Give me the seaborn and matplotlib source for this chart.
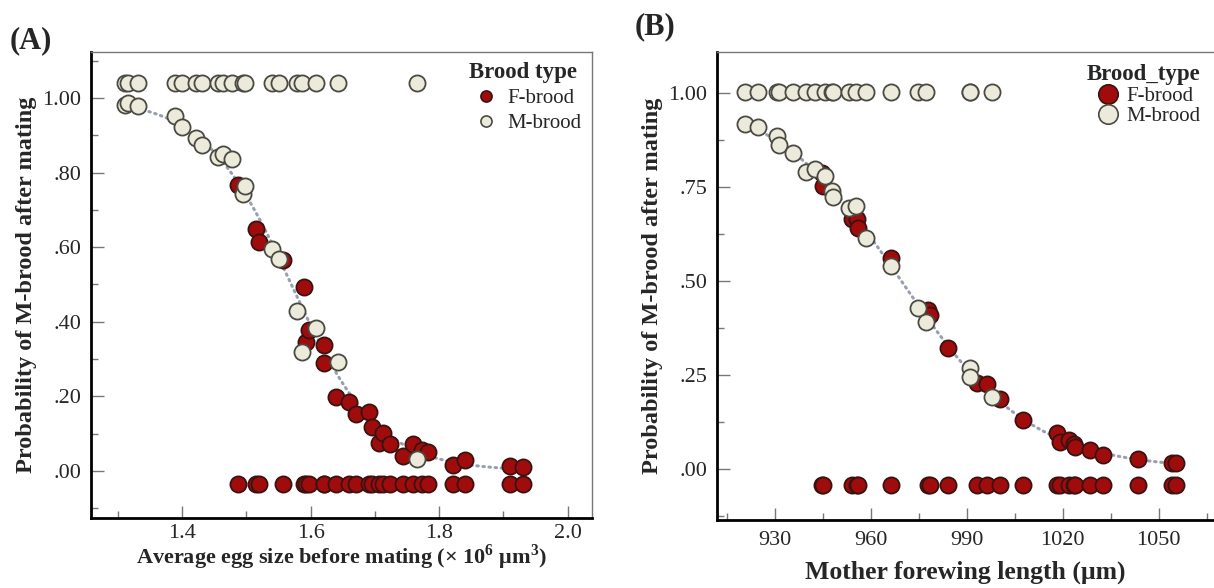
import numpy as np
import pandas as pd
import seaborn as sns
import matplotlib.pyplot as plt
from matplotlib.lines import Line2D
from matplotlib.ticker import MultipleLocator, FuncFormatter

sns.set_style('ticks')
plt.rcParams['font.family'] = ['Liberation Serif', 'DejaVu Serif']
plt.rcParams['mathtext.fontset'] = 'custom'
plt.rcParams['mathtext.rm'] = 'Liberation Serif'
plt.rcParams['mathtext.bf'] = 'Liberation Serif:bold'

# (A) egg size vs fitted probability, split by actual brood type
egg_f = [1.487, 1.515, 1.520, 1.557, 1.590, 1.592, 1.597, 1.620, 1.620, 1.640, 1.659, 1.671, 1.690,
         1.695, 1.707, 1.712, 1.724, 1.744, 1.760, 1.774, 1.783, 1.822, 1.840, 1.910, 1.931]
prob_egg_f = [0.767, 0.649, 0.614, 0.566, 0.493, 0.346, 0.378, 0.338, 0.290, 0.198, 0.185, 0.153, 0.158,
              0.118, 0.075, 0.102, 0.072, 0.040, 0.072, 0.056, 0.051, 0.016, 0.029, 0.013, 0.011]
egg_m = [1.311, 1.316, 1.331, 1.388, 1.400, 1.422, 1.431, 1.455, 1.464, 1.478, 1.495, 1.498, 1.540,
         1.550, 1.579, 1.587, 1.608, 1.642, 1.765]
prob_egg_m = [0.981, 0.987, 0.979, 0.952, 0.922, 0.893, 0.874, 0.842, 0.850, 0.836, 0.743, 0.764, 0.595,
              0.568, 0.429, 0.319, 0.383, 0.292, 0.032]
row_a = {'M-brood': 1.04, 'F-brood': -0.035}

# (B) forewing length vs fitted probability
wing_f = [944.9, 945.1, 954.3, 955.7, 956.2, 966.3, 977.8, 978.6, 984.1, 993.3, 996.3, 1000.4, 1007.6,
          1018.4, 1019.2, 1022.0, 1023.5, 1024.0, 1028.5, 1032.5, 1043.4, 1054.3, 1055.4]
prob_wing_f = [0.788, 0.751, 0.664, 0.664, 0.640, 0.560, 0.423, 0.410, 0.321, 0.228, 0.226, 0.185, 0.130,
               0.095, 0.073, 0.077, 0.066, 0.059, 0.051, 0.037, 0.026, 0.015, 0.015]
wing_m = [920.7, 924.9, 930.7, 931.5, 935.6, 939.9, 942.6, 945.9, 947.8, 948.2, 953.1, 955.4, 958.5,
          966.5, 974.9, 977.3, 991.0, 991.0, 997.8]
prob_wing_m = [0.918, 0.908, 0.886, 0.861, 0.840, 0.789, 0.797, 0.778, 0.740, 0.724, 0.693, 0.698, 0.615,
               0.540, 0.427, 0.390, 0.268, 0.245, 0.192]
row_b = {'M-brood': 1.003, 'F-brood': -0.043}

fill = {'F-brood': '#a00c0c', 'M-brood': '#ecebdb'}
edge = {'F-brood': '#3a1212', 'M-brood': '#4a4a42'}


def make_df(xf, pf, xm, pm, rows):
    df = pd.DataFrame({'x': xf + xm, 'prob': pf + pm,
                       'brood': ['F-brood'] * len(xf) + ['M-brood'] * len(xm)})
    df['outcome'] = df['brood'].map(rows)
    return df


def draw(ax, df, size):
    # logistic curve fitted to the predicted probabilities
    b, a = np.polyfit(df['x'], np.log(df['prob'] / (1 - df['prob'])), 1)
    xs = np.linspace(df['x'].min(), df['x'].max(), 200)
    curve = pd.DataFrame({'x': xs, 'y': 1 / (1 + np.exp(-(a + b * xs)))})
    sns.lineplot(data=curve, x='x', y='y', ax=ax, color='#98a0b0', lw=2.2,
                 dashes=False, linestyle=(0, (0.5, 1.5)), dash_capstyle='round', zorder=1)
    for col in ['outcome', 'prob']:
        for kind in ['M-brood', 'F-brood'] if col == 'outcome' else ['F-brood', 'M-brood']:
            sub = df[df['brood'] == kind]
            sns.scatterplot(data=sub, x='x', y=col, ax=ax, color=fill[kind], edgecolor=edge[kind],
                            linewidth=1.3, s=size, legend=False, zorder=3)


def style(ax, xpad):
    for side in ['left', 'bottom']:
        ax.spines[side].set_linewidth(2.0)
        ax.spines[side].set_color('black')
    for side in ['top', 'right']:
        ax.spines[side].set_visible(True)
        ax.spines[side].set_linewidth(1.0)
        ax.spines[side].set_color('#777777')
    ax.tick_params(which='major', direction='in', length=9, width=1, color='#777777',
                   labelsize=16, pad=7)
    ax.tick_params(axis='x', which='major', pad=xpad)
    ax.tick_params(which='minor', direction='in', length=5, width=1, color='#777777')
    ax.yaxis.set_major_formatter(FuncFormatter(lambda v, p: f'{v:.2f}'.replace('0.', '.', 1) if abs(v) < 1 else f'{v:.2f}'))


fig = plt.figure(figsize=(12.14, 5.88), dpi=100)
ax1 = fig.add_axes([0.075, 0.119, 0.4127, 0.7925])
ax2 = fig.add_axes([0.5906, 0.116, 0.4086, 0.796])

df_a = make_df(egg_f, prob_egg_f, egg_m, prob_egg_m, row_a)
draw(ax1, df_a, 135)
ax1.set_xlim(1.258, 2.038)
ax1.set_ylim(-0.126, 1.123)
ax1.xaxis.set_major_locator(MultipleLocator(0.2))
ax1.xaxis.set_minor_locator(MultipleLocator(0.1))
ax1.yaxis.set_major_locator(MultipleLocator(0.2))
ax1.yaxis.set_minor_locator(MultipleLocator(0.1))
style(ax1, 4)
ax1.set_xlabel(r'Average egg size before mating (× 10$^{\mathbf{6}}$ μm$^{\mathbf{3}}$)',
               fontsize=16, fontweight='bold', labelpad=0)
ax1.set_ylabel('Probability of M-brood after mating', fontsize=17.5, fontweight='bold', labelpad=4)

df_b = make_df(wing_f, prob_wing_f, wing_m, prob_wing_m, row_b)
draw(ax2, df_b, 135)
ax2.set_xlim(912, 1067)
ax2.set_ylim(-0.135, 1.109)
ax2.xaxis.set_major_locator(MultipleLocator(30))
ax2.xaxis.set_minor_locator(MultipleLocator(15))
ax2.yaxis.set_major_locator(MultipleLocator(0.25))
ax2.yaxis.set_minor_locator(MultipleLocator(0.125))
style(ax2, 8)
ax2.spines['right'].set_visible(False)
ax2.set_xlabel('Mother forewing length (μm)', fontsize=18.5, fontweight='bold', labelpad=8)
ax2.set_ylabel('Probability of M-brood after mating', fontsize=17.5, fontweight='bold', labelpad=4)


def handles(ms):
    return [Line2D([], [], marker='o', ls='', markersize=ms, markerfacecolor=fill[k],
                   markeredgecolor=edge[k], markeredgewidth=1.2, label=k) for k in ['F-brood', 'M-brood']]


leg1 = ax1.legend(handles=handles(8), title='Brood type', loc='upper right', frameon=False,
                  fontsize=15, handletextpad=0.05, labelspacing=0.25, borderaxespad=0.1,
                  title_fontproperties={'weight': 'bold', 'size': 16.5})
leg2 = ax2.legend(handles=handles(14), title='Brood_type', loc='upper right', frameon=False,
                  fontsize=15, handletextpad=-0.1, labelspacing=0.05, borderaxespad=0.2,
                  title_fontproperties={'weight': 'bold', 'size': 16.5})

fig.text(0.008, 0.93, '(A)', fontsize=22, fontweight='bold', va='center')
fig.text(0.523, 0.955, '(B)', fontsize=22, fontweight='bold', va='center')

fig.savefig('out.png', dpi=100)
